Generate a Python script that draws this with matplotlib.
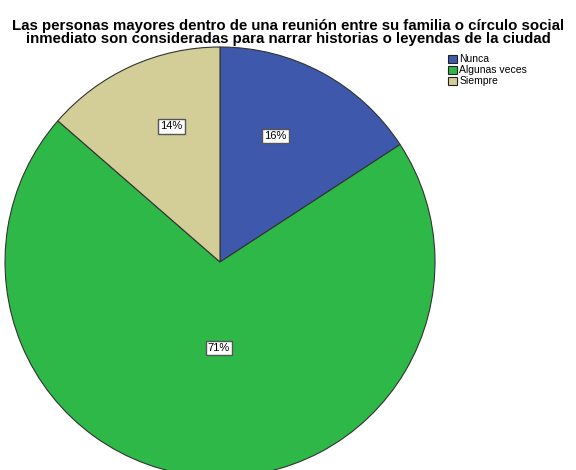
import numpy as np
import matplotlib.pyplot as plt
from matplotlib.patches import Patch

plt.rcParams['font.family'] = ['Liberation Sans', 'DejaVu Sans']

# Data
categories = ['Nunca', 'Algunas veces', 'Siempre']
values = [15.8, 70.6, 13.6]
colors = ['#3E58AC', '#2EB848', '#D3CE97']
label_dist = [0.64, 0.40, 0.67]
label_shift = [4.7, 3.3, -4.8]  # degrees, nudges label toward SPSS placement

title = ('Las personas mayores dentro de una reunión entre su familia o círculo social\n'
         'inmediato son consideradas para narrar historias o leyendas de la ciudad')

W, H = 576, 470
fig = plt.figure(figsize=(W / 100, H / 100), dpi=100)

# pie centered at (220, 262) px, radius 215 px
cx, cy, r = 220, 262, 215
ax = fig.add_axes([(cx - r) / W, (H - cy - r) / H, 2 * r / W, 2 * r / H])

wedges, _ = ax.pie(values, colors=colors, startangle=90, counterclock=False,
                   wedgeprops=dict(edgecolor='#333333', linewidth=0.8))
for w in wedges:
    w.set_clip_on(False)
ax.set_xlim(-1, 1)
ax.set_ylim(-1, 1)
ax.set_aspect('equal')

total = sum(values)
for w, v, d, s in zip(wedges, values, label_dist, label_shift):
    ang = np.deg2rad((w.theta1 + w.theta2) / 2 + s)
    ax.text(d * np.cos(ang), d * np.sin(ang), f'{v / total * 100:.0f}%',
            ha='center', va='center', fontsize=8,
            bbox=dict(boxstyle='square,pad=0.2', facecolor='white',
                      edgecolor='#555555', linewidth=1.0))

fig.text(0.5, 1 - 32.5 / H, title, ha='center', va='center', fontsize=10.8,
         fontweight='bold', linespacing=0.95)

handles = [Patch(facecolor=c, edgecolor='#222222', linewidth=0.8) for c in colors]
fig.legend(handles, categories, loc='upper left', bbox_to_anchor=(441 / W, 1 - 47 / H),
           frameon=False, fontsize=7.5, handlelength=0.85, handleheight=0.85,
           handletextpad=0.2, labelspacing=0.1, borderpad=0.2)

plt.savefig('out.png', dpi=100)
